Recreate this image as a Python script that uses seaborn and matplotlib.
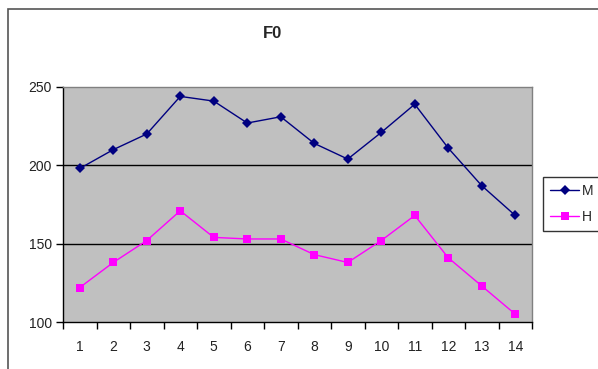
import pandas as pd
import matplotlib.pyplot as plt
import matplotlib.ticker as mticker
from matplotlib.patches import Rectangle
import seaborn as sns

# values
points = list(range(1, 15))
m_values = [198, 210, 220, 244, 241, 227, 231, 214, 204, 221, 239, 211, 187, 168]
h_values = [122, 138, 152, 171, 154, 153, 153, 143, 138, 152, 168, 141, 123, 105]
series_names = ["M", "H"]
y_ticks = [100, 150, 200, 250]

df = pd.DataFrame({
    "x": points * 2,
    "F0": m_values + h_values,
    "serie": [series_names[0]] * len(points) + [series_names[1]] * len(points),
})

sns.set_style("white")
plt.rcParams['font.family'] = ['Liberation Sans', 'DejaVu Sans']

fig = plt.figure(figsize=(5.98, 3.69), dpi=100)
# outer chart frame (right/bottom edges fall outside the picture)
fig.patches.append(Rectangle((8 / 598, -0.05), 1.2, 1 - 9 / 369 + 0.05,
                             transform=fig.transFigure, fill=False,
                             edgecolor='#555555', linewidth=1.2))

ax = fig.add_axes([63 / 598, 1 - 322 / 369, (532 - 63) / 598, (322 - 87) / 369])
ax.set_facecolor('#C0C0C0')

sns.lineplot(data=df, x="x", y="F0", hue="serie", style="serie",
             palette={"M": "#000080", "H": "#FF00FF"},
             markers={"M": "D", "H": "s"}, dashes=False,
             markersize=5.5, linewidth=1, markeredgewidth=0, ax=ax)

ax.set_xlim(0.5, 14.5)
ax.set_ylim(100, 250)
ax.set_yticks(y_ticks)
for v in [150, 200]:
    ax.axhline(v, color='black', linewidth=1, zorder=0.5)

# Excel-style category ticks: marks between categories, labels centered
ax.xaxis.set_major_locator(mticker.FixedLocator([i + 0.5 for i in range(0, 15)]))
ax.xaxis.set_major_formatter(mticker.NullFormatter())
ax.xaxis.set_minor_locator(mticker.FixedLocator(points))
ax.xaxis.set_minor_formatter(mticker.FixedFormatter([str(p) for p in points]))
ax.tick_params(axis='x', which='major', direction='out', length=5, width=1, color='black', bottom=True)
ax.tick_params(axis='x', which='minor', length=0, labelsize=10, pad=13, labelcolor='#222222')
ax.tick_params(axis='y', direction='out', length=5, width=1, color='black', left=True,
               labelsize=10, pad=3, labelcolor='#222222')

ax.set_xlabel("")
ax.set_ylabel("")
for side in ['top', 'right']:
    ax.spines[side].set_color('#808080')
    ax.spines[side].set_linewidth(1)
for side in ['left', 'bottom']:
    ax.spines[side].set_color('black')
    ax.spines[side].set_linewidth(1)

fig.text(272 / 598, 1 - 34 / 369, "F0", ha='center', va='center',
         fontsize=12, fontweight='bold')

leg = ax.legend(title=None, loc='center left', bbox_to_anchor=(543 / 598, 1 - 204 / 369),
                bbox_transform=fig.transFigure, frameon=True, fancybox=False,
                fontsize=10, handlelength=2.1, handletextpad=0.2, borderpad=0.5,
                labelspacing=0.85, borderaxespad=0)
leg.get_frame().set_edgecolor('black')
leg.get_frame().set_linewidth(1)

fig.savefig("out.png", dpi=100)
